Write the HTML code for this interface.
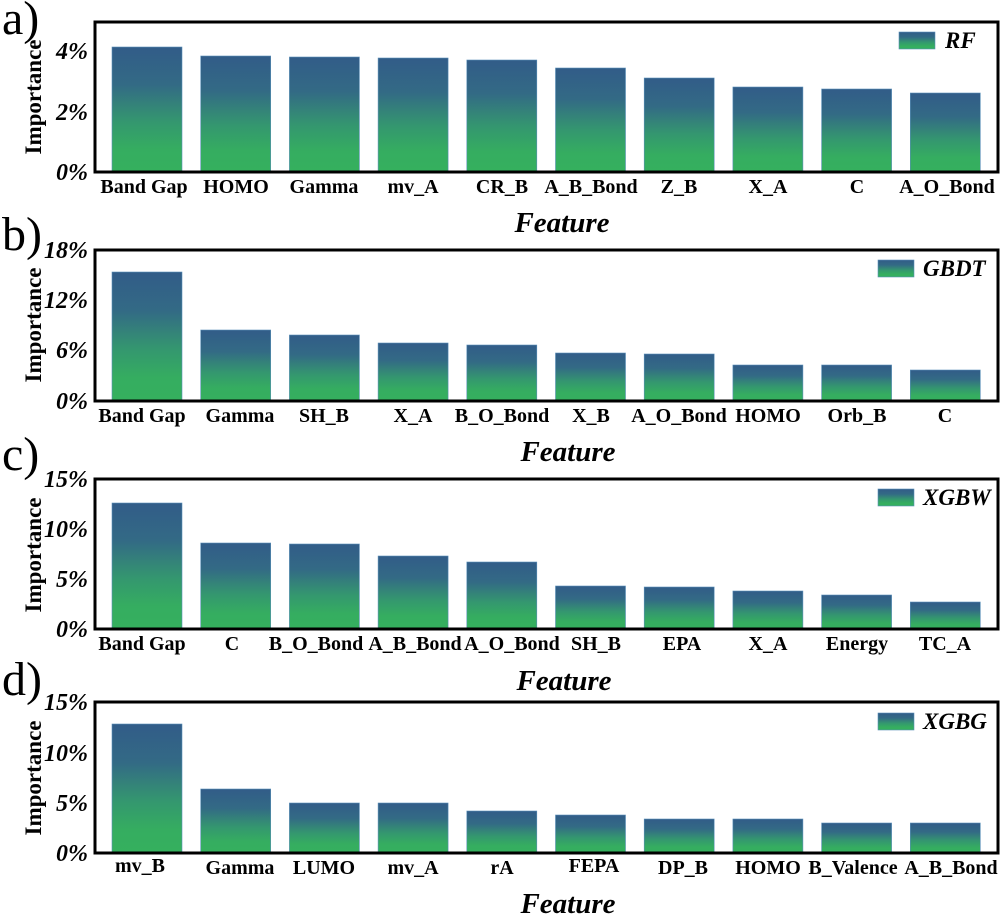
<!DOCTYPE html>
<html><head><meta charset="utf-8"><style>
html,body{margin:0;padding:0;background:#fff}
svg{display:block}
.t{font-family:"Liberation Serif",serif;font-weight:bold;font-size:20px;text-anchor:middle;fill:#000}
.y{font-family:"Liberation Serif",serif;font-weight:bold;font-style:italic;font-size:24px;text-anchor:end;fill:#000}
.f{font-family:"Liberation Serif",serif;font-weight:bold;font-style:italic;font-size:29px;text-anchor:middle;fill:#000}
.p{font-family:"Liberation Serif",serif;font-size:48px;fill:#000}
.i{font-family:"Liberation Serif",serif;font-weight:bold;font-size:23px;text-anchor:middle;fill:#000}
.l{font-family:"Liberation Serif",serif;font-weight:bold;font-style:italic;font-size:23px;fill:#000}
.box{fill:none;stroke:#000;stroke-width:3}
.b{fill:url(#g);stroke:#5a8fb8;stroke-width:0.6}
</style></head><body>
<svg width="1004" height="921" xmlns="http://www.w3.org/2000/svg">
<defs><linearGradient id="g" x1="0" y1="0" x2="0" y2="1">
<stop offset="0" stop-color="#325c88"/><stop offset="0.3" stop-color="#336a85"/><stop offset="0.6" stop-color="#34976f"/><stop offset="0.82" stop-color="#35ad60"/><stop offset="1" stop-color="#35b05e"/></linearGradient></defs>

<!-- Panel a -->
<text class="p" x="2" y="34">a)</text>
<text class="i" transform="translate(41,97) rotate(-90)">Importance</text>
<text class="y" x="88" y="180">0%</text><text class="y" x="88" y="120">2%</text><text class="y" x="88" y="59">4%</text>
<rect class="b" x="112" y="47" width="70" height="125"/>
<rect class="b" x="200.7" y="56" width="70" height="116"/>
<rect class="b" x="289.4" y="57" width="70" height="115"/>
<rect class="b" x="378.1" y="58" width="70" height="114"/>
<rect class="b" x="466.8" y="60" width="70" height="112"/>
<rect class="b" x="555.5" y="68" width="70" height="104"/>
<rect class="b" x="644.2" y="78" width="70" height="94"/>
<rect class="b" x="732.9" y="87" width="70" height="85"/>
<rect class="b" x="821.6" y="89" width="70" height="83"/>
<rect class="b" x="910.3" y="93" width="70" height="79"/>
<rect class="box" x="95" y="22" width="903" height="150"/>
<rect class="b" x="899" y="32" width="36" height="17"/><text class="l" x="945" y="48">RF</text>
<text class="t" x="144" y="193">Band Gap</text><text class="t" x="236" y="193">HOMO</text><text class="t" x="324" y="193">Gamma</text><text class="t" x="413" y="193">mv_A</text><text class="t" x="502" y="193">CR_B</text><text class="t" x="591" y="193">A_B_Bond</text><text class="t" x="679" y="193">Z_B</text><text class="t" x="768" y="193">X_A</text><text class="t" x="857" y="193">C</text><text class="t" x="947" y="193">A_O_Bond</text>
<text class="f" x="562" y="232">Feature</text>

<!-- Panel b -->
<text class="p" x="2" y="250">b)</text>
<text class="i" transform="translate(41,325) rotate(-90)">Importance</text>
<text class="y" x="88" y="409">0%</text><text class="y" x="88" y="358">6%</text><text class="y" x="88" y="308">12%</text><text class="y" x="88" y="258">18%</text>
<rect class="b" x="112" y="272" width="70" height="129"/>
<rect class="b" x="200.7" y="330" width="70" height="71"/>
<rect class="b" x="289.4" y="335" width="70" height="66"/>
<rect class="b" x="378.1" y="343" width="70" height="58"/>
<rect class="b" x="466.8" y="345" width="70" height="56"/>
<rect class="b" x="555.5" y="353" width="70" height="48"/>
<rect class="b" x="644.2" y="354" width="70" height="47"/>
<rect class="b" x="732.9" y="365" width="70" height="36"/>
<rect class="b" x="821.6" y="365" width="70" height="36"/>
<rect class="b" x="910.3" y="370" width="70" height="31"/>
<rect class="box" x="95" y="250" width="903" height="151"/>
<rect class="b" x="878" y="260" width="36" height="17"/><text class="l" x="923" y="276">GBDT</text>
<text class="t" x="142" y="422">Band Gap</text><text class="t" x="240" y="422">Gamma</text><text class="t" x="324" y="422">SH_B</text><text class="t" x="413" y="422">X_A</text><text class="t" x="502" y="422">B_O_Bond</text><text class="t" x="591" y="422">X_B</text><text class="t" x="679" y="422">A_O_Bond</text><text class="t" x="768" y="422">HOMO</text><text class="t" x="857" y="422">Orb_B</text><text class="t" x="945" y="422">C</text>
<text class="f" x="568" y="461">Feature</text>

<!-- Panel c -->
<text class="p" x="2" y="470">c)</text>
<text class="i" transform="translate(41,555) rotate(-90)">Importance</text>
<text class="y" x="88" y="637">0%</text><text class="y" x="88" y="587">5%</text><text class="y" x="88" y="537">10%</text><text class="y" x="88" y="487">15%</text>
<rect class="b" x="112" y="503" width="70" height="126"/>
<rect class="b" x="200.7" y="543" width="70" height="86"/>
<rect class="b" x="289.4" y="544" width="70" height="85"/>
<rect class="b" x="378.1" y="556" width="70" height="73"/>
<rect class="b" x="466.8" y="562" width="70" height="67"/>
<rect class="b" x="555.5" y="586" width="70" height="43"/>
<rect class="b" x="644.2" y="587" width="70" height="42"/>
<rect class="b" x="732.9" y="591" width="70" height="38"/>
<rect class="b" x="821.6" y="595" width="70" height="34"/>
<rect class="b" x="910.3" y="602" width="70" height="27"/>
<rect class="box" x="95" y="479" width="903" height="150"/>
<rect class="b" x="878" y="489" width="36" height="17"/><text class="l" x="923" y="505">XGBW</text>
<text class="t" x="142" y="650">Band Gap</text><text class="t" x="232" y="650">C</text><text class="t" x="316" y="650">B_O_Bond</text><text class="t" x="415" y="650">A_B_Bond</text><text class="t" x="512" y="650">A_O_Bond</text><text class="t" x="596" y="650">SH_B</text><text class="t" x="682" y="650">EPA</text><text class="t" x="768" y="650">X_A</text><text class="t" x="857" y="650">Energy</text><text class="t" x="945" y="650">TC_A</text>
<text class="f" x="564" y="690">Feature</text>

<!-- Panel d -->
<text class="p" x="2" y="695">d)</text>
<text class="i" transform="translate(41,778) rotate(-90)">Importance</text>
<text class="y" x="88" y="861">0%</text><text class="y" x="88" y="811">5%</text><text class="y" x="88" y="761">10%</text><text class="y" x="88" y="710">15%</text>
<rect class="b" x="112" y="724" width="70" height="129"/>
<rect class="b" x="200.7" y="789" width="70" height="64"/>
<rect class="b" x="289.4" y="803" width="70" height="50"/>
<rect class="b" x="378.1" y="803" width="70" height="50"/>
<rect class="b" x="466.8" y="811" width="70" height="42"/>
<rect class="b" x="555.5" y="815" width="70" height="38"/>
<rect class="b" x="644.2" y="819" width="70" height="34"/>
<rect class="b" x="732.9" y="819" width="70" height="34"/>
<rect class="b" x="821.6" y="823" width="70" height="30"/>
<rect class="b" x="910.3" y="823" width="70" height="30"/>
<rect class="box" x="95" y="702" width="903" height="151"/>
<rect class="b" x="878" y="713" width="36" height="17"/><text class="l" x="923" y="729">XGBG</text>
<text class="t" x="140" y="872">mv_B</text><text class="t" x="240" y="874">Gamma</text><text class="t" x="324" y="874">LUMO</text><text class="t" x="413" y="874">mv_A</text><text class="t" x="502" y="874">rA</text><text class="t" x="594" y="872">FEPA</text><text class="t" x="683" y="874">DP_B</text><text class="t" x="768" y="874">HOMO</text><text class="t" x="853" y="874">B_Valence</text><text class="t" x="951" y="874">A_B_Bond</text>
<text class="f" x="568" y="913">Feature</text>
</svg>
</body></html>
